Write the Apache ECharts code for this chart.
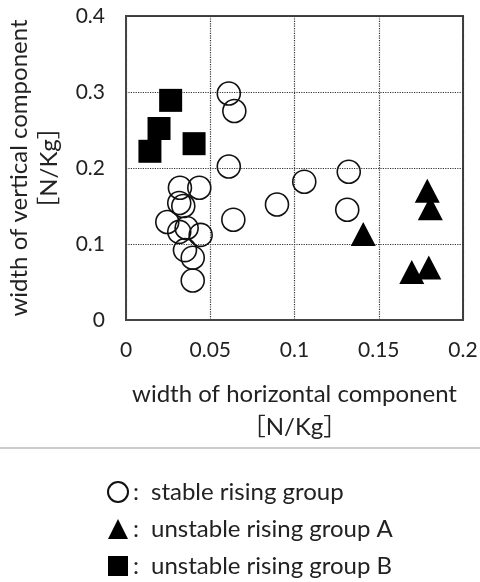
<!DOCTYPE html>
<html>
<head>
<meta charset="utf-8">
<script src="https://cdn.jsdelivr.net/npm/echarts@6/dist/echarts.min.js"></script>
<style>
  html, body { margin: 0; padding: 0; background: #fff; }
  #chart { width: 480px; height: 582px; }
</style>
</head>
<body>
<div id="chart"></div>
<script>
// [horizontal width, vertical width] in N/Kg
const stableGroup = [
  [0.0610, 0.298], [0.0643, 0.275], [0.0610, 0.202], [0.0637, 0.132],
  [0.0896, 0.152], [0.1058, 0.182], [0.1322, 0.195], [0.1313, 0.145],
  [0.0320, 0.174], [0.0435, 0.174], [0.0316, 0.154], [0.0340, 0.150],
  [0.0245, 0.129], [0.0316, 0.116], [0.0360, 0.121], [0.0443, 0.112],
  [0.0350, 0.092], [0.0396, 0.082], [0.0396, 0.052]
];
const unstableA = [
  [0.1788, 0.170], [0.1806, 0.147], [0.1408, 0.113], [0.1696, 0.063], [0.1797, 0.069]
];
const unstableB = [
  [0.0265, 0.289], [0.0196, 0.252], [0.0142, 0.222], [0.0404, 0.232]
];
const groupNames = ["stable rising group", "unstable rising group A", "unstable rising group B"];

const font = 'Lato, "Noto Sans CJK JP", sans-serif';
const textColor = "#222";

const chart = echarts.init(document.getElementById("chart"));

const option = {
  animation: false,
  textStyle: { fontFamily: font },
  grid: {
    left: 126,
    top: 16,
    width: 337,
    height: 304,
    outerBoundsMode: "none",
    show: true,
    borderColor: "#444",
    borderWidth: 2
  },
  xAxis: {
    type: "value",
    min: 0,
    max: 0.2,
    interval: 0.05,
    name: "width of horizontal component\n［N/Kg］",
    nameLocation: "middle",
    nameGap: 58,
    nameTextStyle: { fontFamily: font, fontSize: 24, color: textColor, lineHeight: 33 },
    axisLine: { show: true, lineStyle: { color: "#444", width: 2 } },
    axisTick: { show: false },
    axisLabel: { fontFamily: font, fontSize: 21, color: textColor, margin: 20 },
    splitLine: { show: true, lineStyle: { type: "dotted", color: "#333", width: 1.2 } }
  },
  yAxis: {
    type: "value",
    min: 0,
    max: 0.4,
    interval: 0.1,
    name: "width of vertical component\n［N/Kg］",
    nameLocation: "middle",
    nameGap: 62,
    nameRotate: 90,
    nameTextStyle: { fontFamily: font, fontSize: 24, color: textColor, lineHeight: 30 },
    axisLine: { show: true, lineStyle: { color: "#444", width: 2 } },
    axisTick: { show: false },
    axisLabel: { fontFamily: font, fontSize: 21, color: textColor, margin: 21 },
    splitLine: { show: true, lineStyle: { type: "dotted", color: "#333", width: 1.2 } }
  },
  legend: {
    orient: "vertical",
    left: 107,
    top: 480,
    padding: 0,
    itemWidth: 20,
    itemHeight: 20,
    itemGap: 13,
    textStyle: {
      fontFamily: font,
      fontSize: 24,
      color: textColor,
      lineHeight: 24,
      rich: {
        c: { width: 18, fontSize: 24, fontFamily: font, color: textColor },
        t: { fontSize: 24, fontFamily: font, color: textColor }
      }
    },
    formatter: function (name) { return "{c|:}{t|" + name + "}"; },
    data: groupNames
  },
  graphic: [
    {
      type: "line",
      shape: { x1: 0, y1: 448, x2: 480, y2: 448 },
      style: { stroke: "#bbb", lineWidth: 1.5 }
    }
  ],
  series: [
    {
      name: groupNames[0],
      type: "scatter",
      symbol: "circle",
      symbolSize: 23,
      data: stableGroup,
      itemStyle: { color: "rgba(255,255,255,0)", borderColor: "#111", borderWidth: 1.6, opacity: 1 }
    },
    {
      name: groupNames[1],
      type: "scatter",
      symbol: "triangle",
      symbolSize: [25, 24],
      data: unstableA,
      itemStyle: { color: "#000", opacity: 1 }
    },
    {
      name: groupNames[2],
      type: "scatter",
      symbol: "rect",
      symbolSize: 23,
      data: unstableB,
      itemStyle: { color: "#000", opacity: 1 }
    }
  ]
};

chart.setOption(option);
</script>
</body>
</html>
